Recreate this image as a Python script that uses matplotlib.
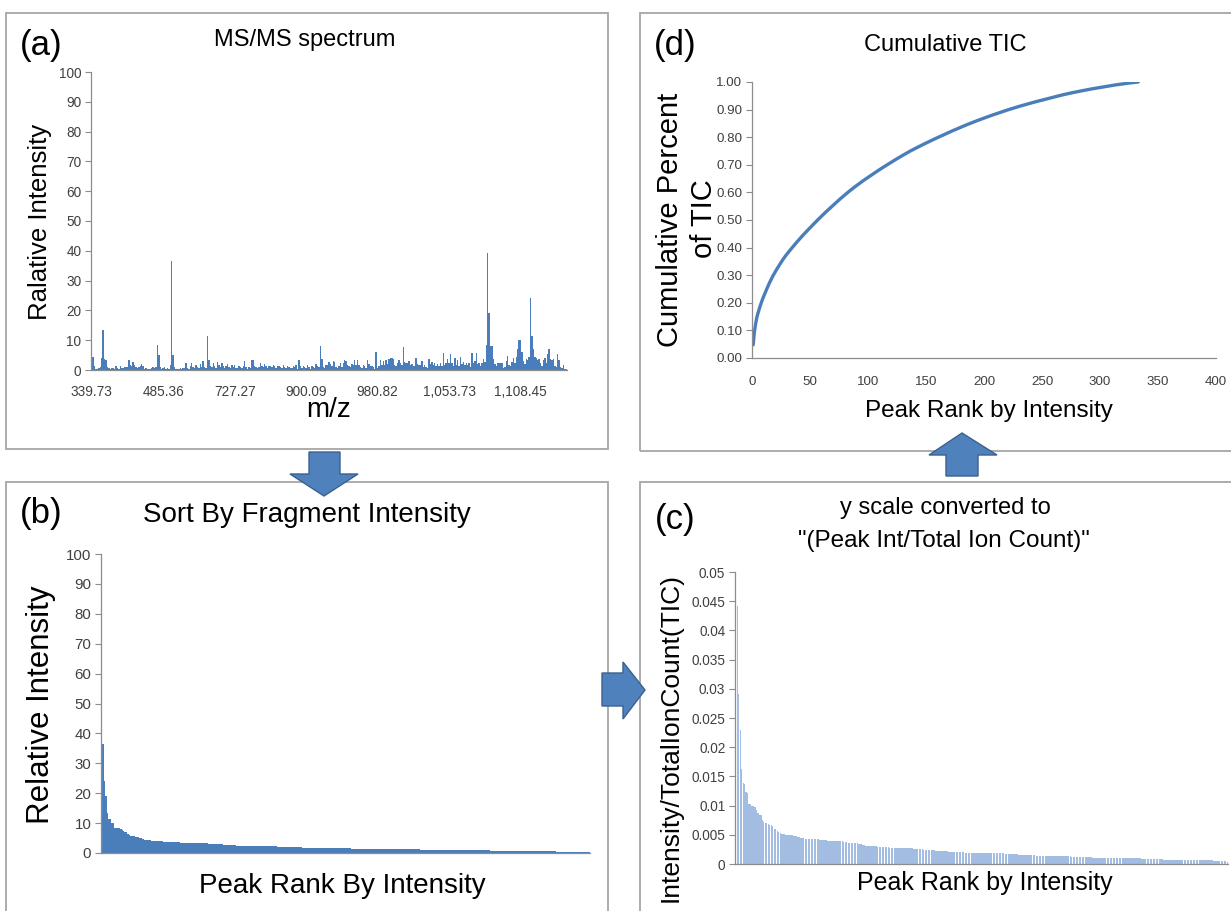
import numpy as np
import matplotlib
matplotlib.use("Agg")
import matplotlib.pyplot as plt
from matplotlib import font_manager
from matplotlib.patches import Polygon, Rectangle

# ---------------- data ----------------
# relative intensity of each fragment peak, in m/z order (panel a)
spectrum = [
    0.9, 4.3, 1.4, 0.5, 0.4, 0.6, 1.0, 4.1, 13.5, 3.6,
    3.2, 1.0, 0.7, 0.5, 0.6, 0.6, 0.5, 1.2, 0.7, 0.5,
    1.3, 0.6, 0.6, 0.9, 0.9, 0.9, 3.2, 1.8, 1.2, 2.8,
    1.6, 1.0, 0.7, 0.9, 1.5, 2.1, 1.4, 0.5, 0.6, 0.4,
    0.5, 0.4, 0.7, 0.9, 0.6, 1.1, 8.5, 5.0, 0.9, 0.5,
    0.7, 0.9, 0.5, 0.6, 0.4, 1.6, 36.5, 5.0, 0.9, 0.3,
    0.4, 0.5, 0.6, 0.4, 0.7, 0.7, 2.2, 0.8, 0.4, 1.3,
    2.4, 1.0, 0.6, 1.6, 0.9, 0.6, 1.9, 1.1, 3.0, 0.9,
    0.7, 11.3, 3.2, 1.2, 0.9, 2.4, 1.4, 0.6, 2.7, 1.7,
    1.0, 2.2, 1.2, 0.8, 1.5, 2.0, 0.9, 0.7, 1.6, 1.1,
    1.6, 0.6, 0.6, 1.4, 1.0, 0.6, 1.3, 2.9, 0.9, 0.5,
    0.9, 0.6, 3.4, 3.2, 1.3, 1.0, 0.7, 0.9, 2.3, 1.2,
    0.9, 2.1, 1.3, 0.8, 1.2, 1.5, 1.0, 1.7, 1.2, 0.7,
    1.5, 1.3, 0.9, 0.6, 1.7, 0.9, 0.7, 1.4, 1.0, 0.6,
    0.8, 1.3, 0.9, 1.8, 0.5, 3.2, 1.2, 0.8, 1.5, 1.0,
    0.6, 1.6, 1.1, 0.4, 1.5, 0.9, 0.7, 2.0, 1.3, 1.0,
    8.2, 3.6, 0.9, 0.7, 1.8, 1.6, 2.6, 1.9, 1.2, 2.9,
    2.7, 1.1, 0.6, 1.4, 2.2, 1.0, 2.5, 3.2, 2.9, 1.7,
    1.5, 0.9, 2.0, 1.6, 3.4, 1.7, 3.5, 1.8, 1.1, 0.8,
    1.6, 1.2, 0.6, 3.4, 2.1, 1.2, 1.5, 1.0, 0.5, 6.2,
    0.8, 1.2, 3.2, 1.7, 2.9, 1.8, 3.4, 2.0, 3.8, 4.0,
    4.1, 3.6, 1.7, 1.3, 2.4, 3.2, 2.3, 1.6, 7.6, 2.6,
    2.3, 2.2, 3.0, 1.6, 2.1, 1.3, 1.4, 4.1, 2.1, 1.6,
    1.8, 3.1, 1.1, 1.6, 1.0, 0.8, 3.7, 2.0, 2.6, 1.8,
    2.2, 1.5, 2.0, 1.4, 2.5, 1.2, 5.6, 1.7, 2.4, 3.6,
    2.3, 5.5, 2.2, 1.4, 4.1, 1.7, 3.5, 1.5, 4.4, 2.0,
    2.8, 1.7, 2.3, 1.6, 2.2, 1.1, 5.8, 2.4, 3.1, 5.8,
    2.1, 2.2, 1.3, 2.5, 3.8, 2.6, 8.5, 39.4, 19.0, 8.2,
    8.0, 3.7, 2.0, 1.2, 2.5, 2.2, 2.4, 2.3, 0.8, 1.1,
    3.0, 4.7, 1.7, 1.5, 2.8, 4.0, 2.4, 4.2, 7.0, 10.2,
    10.0, 6.0, 3.1, 2.1, 3.6, 3.2, 4.3, 24.0, 11.5, 7.2,
    4.5, 3.9, 3.5, 3.6, 2.4, 1.5, 3.2, 4.1, 2.2, 5.5,
    7.0, 3.7, 3.3, 3.6, 1.3, 0.9, 5.4, 3.4, 1.1, 0.7,
    1.6, 0.5, 0.4,
]
mz_tick_labels = ["339.73", "485.36", "727.27", "900.09", "980.82",
                  "1,053.73", "1,108.45"]
mz_label_step = 50

intensity_ticks = list(range(0, 101, 10))
tic_ticks = [0, 0.005, 0.01, 0.015, 0.02, 0.025, 0.03, 0.035, 0.04, 0.045, 0.05]
cum_yticks = [0.0, 0.1, 0.2, 0.3, 0.4, 0.5, 0.6, 0.7, 0.8, 0.9, 1.0]
cum_xticks = [0, 50, 100, 150, 200, 250, 300, 350, 400]

# derived series (the figure's own pipeline)
spec = np.array(spectrum)
sorted_int = np.sort(spec)[::-1]                 # panel b
tic_frac = sorted_int / sorted_int.sum()          # panel c
cum_tic = np.cumsum(tic_frac)                     # panel d
rank = np.arange(1, len(sorted_int) + 1)

# ---------------- styling ----------------
W, H = 1231, 911
names = {f.name for f in font_manager.fontManager.ttflist}
HAS_NARROW = "Liberation Sans Narrow" in names
NARROW = "Liberation Sans Narrow" if HAS_NARROW else "Liberation Sans"
NSCALE = 1.12 if HAS_NARROW else 1.0
SANS = "Liberation Sans"

BLUE = "#4A7EBB"
LIGHT = "#A3BDE2"
GRID = "#8C8C8C"
BOX = "#A6A6A6"
TICKC = "#404040"

fig = plt.figure(figsize=(W / 100, H / 100), dpi=100)
fig.patch.set_facecolor("white")


def fx(x):
    return x / W


def fy(y):
    return 1 - y / H


def ax_px(x0, y0, x1, y1):
    return fig.add_axes([fx(x0), fy(y1), (x1 - x0) / W, (y1 - y0) / H])


def text_px(x, y, s, narrow=False, size=12, rot=0, **kw):
    fam = NARROW if narrow else SANS
    sz = size * NSCALE if narrow else size
    fig.text(fx(x), fy(y), s, ha="center", va="center", rotation=rot,
             family=fam, fontsize=sz, color="black", **kw)


def box_px(x0, y0, x1, y1):
    fig.add_artist(Rectangle((fx(x0), fy(y1)), (x1 - x0) / W, (y1 - y0) / H,
                             transform=fig.transFigure, fill=False,
                             ec=BOX, lw=1.3, zorder=1))


def arrow_px(pts):
    fig.add_artist(Polygon([(fx(x), fy(y)) for x, y in pts], closed=True,
                           transform=fig.transFigure, fc="#4F81BD",
                           ec="#3A6090", lw=1.0, zorder=5))


def style_axes(ax, tick_size):
    for s in ("top", "right"):
        ax.spines[s].set_visible(False)
    for s in ("left", "bottom"):
        ax.spines[s].set_color(GRID)
        ax.spines[s].set_linewidth(0.9)
    ax.tick_params(axis="y", length=4, width=0.8, color=GRID, pad=3,
                   labelsize=tick_size * NSCALE, labelcolor=TICKC)
    ax.tick_params(axis="x", length=0, pad=8,
                   labelsize=tick_size * NSCALE, labelcolor=TICKC)
    for lab in ax.get_xticklabels() + ax.get_yticklabels():
        lab.set_family(NARROW)
    ax.set_facecolor("white")


# ---------------- boxes ----------------
box_px(6, 13, 608, 449)
box_px(640, 13, 1245, 451)
box_px(6, 482, 608, 925)
box_px(640, 482, 1245, 925)

# ---------------- panel (a) ----------------
axa = ax_px(91, 72, 567, 370)
idx = np.arange(len(spec))
axa.bar(idx, spec, width=1.0, color=BLUE, linewidth=0)
axa.set_xlim(-0.5, len(spec) - 0.5)
axa.set_ylim(0, 100)
axa.set_yticks(intensity_ticks)
axa.set_xticks(idx[::mz_label_step][:len(mz_tick_labels)])
axa.set_xticklabels(mz_tick_labels)
style_axes(axa, 9.8)
axa.tick_params(axis="x", pad=11)

text_px(41, 46, "(a)", size=25)
text_px(305, 40, "MS/MS spectrum", narrow=True, size=17)
text_px(40, 222, "Ralative Intensity", size=18.5, rot=90)
text_px(329, 410, "m/z", size=20)

# ---------------- panel (b) ----------------
axb = ax_px(101, 554, 590, 853)
axb.bar(rank, sorted_int, width=1.0, color=BLUE, linewidth=0)
axb.set_xlim(0.5, len(rank) + 0.5)
axb.set_ylim(0, 100)
axb.set_yticks(intensity_ticks)
axb.set_xticks([])
style_axes(axb, 10.8)

text_px(41, 513, "(b)", size=25)
text_px(307, 515, "Sort By Fragment Intensity", narrow=True, size=20)
text_px(41, 705, "Relative Intensity", size=22.5, rot=90)
text_px(342, 886, "Peak Rank By Intensity", narrow=True, size=20)

# ---------------- panel (c) ----------------
axc = ax_px(735, 572, 1228, 864)
axc.bar(rank, tic_frac, width=0.85, color=LIGHT, linewidth=0)
axc.set_xlim(0.5, len(rank) + 0.5)
axc.set_ylim(0, 0.05)
axc.set_yticks(tic_ticks)
axc.set_yticklabels(["%g" % v for v in tic_ticks])
axc.set_xticks([])
style_axes(axc, 9.8)

text_px(675, 520, "(c)", size=25)
text_px(945, 508, "y scale converted to", size=17)
text_px(944, 541, "\"(Peak Int/Total Ion Count)\"", size=17.5)
text_px(671, 738, "Intensity/TotalIonCount(TIC)", size=19, rot=90)
text_px(985, 883, "Peak Rank by Intensity", narrow=True, size=18)

# ---------------- panel (d) ----------------
axd = ax_px(752, 82, 1216, 358)
axd.plot(rank, cum_tic, color=BLUE, lw=2.4, solid_capstyle="round")
axd.set_xlim(0, 400)
axd.set_ylim(0, 1.0)
axd.set_yticks(cum_yticks)
axd.set_yticklabels(["%.2f" % v for v in cum_yticks])
axd.set_xticks(cum_xticks)
style_axes(axd, 9.6)
axd.tick_params(axis="x", pad=13)

text_px(675, 46, "(d)", size=25)
text_px(945, 45, "Cumulative TIC", narrow=True, size=17)
text_px(670, 220, "Cumulative Percent", size=21, rot=90)
text_px(704, 219, "of TIC", size=21, rot=90)
text_px(989, 411, "Peak Rank by Intensity", narrow=True, size=17.5)

# ---------------- arrows ----------------
arrow_px([(309, 452), (340, 452), (340, 474), (358, 474), (324, 496),
          (290, 474), (309, 474)])
arrow_px([(602, 673), (623, 673), (623, 662), (645, 690), (623, 719),
          (623, 706), (602, 706)])
arrow_px([(946, 476), (946, 455), (929, 455), (962, 433), (997, 455),
          (978, 455), (978, 476)])

fig.savefig("out.png", dpi=100, facecolor="white")
